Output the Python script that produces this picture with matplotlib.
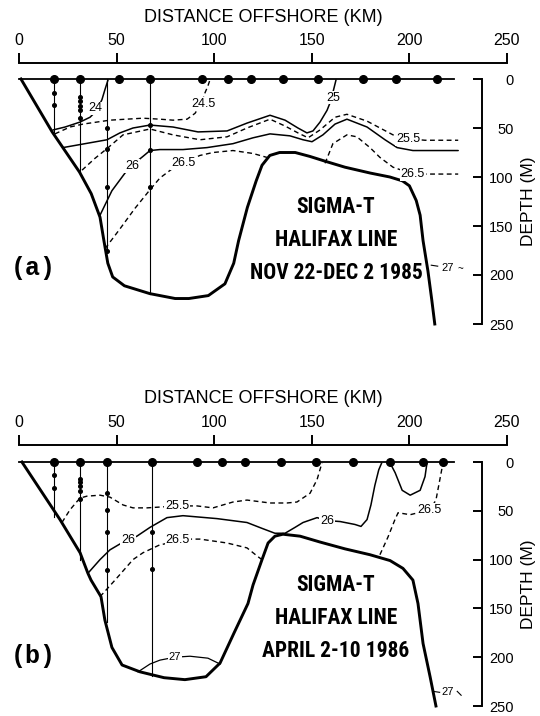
import matplotlib
matplotlib.use('Agg')
import matplotlib.pyplot as plt

W, H = 540, 716

# ---------------- panel (a) : Nov 22 - Dec 2 1985 ----------------
stations_a = [18, 31, 51, 67, 94, 107, 119, 135, 153, 176, 193, 214]
line_end_a = 223
cast_km_a = [18, 31, 45, 67]
cast_bottom_a = [54, 95, 177, 219]
cast_samples_a = [[14, 27], [18, 22, 28, 32, 40], [50, 71, 110, 175], [47, 72, 110]]

bathy_a_km = [1, 17, 31, 37, 41.5, 43.5, 45.5, 48, 54, 67, 80, 87, 97, 105.5, 110, 112.5,
              117, 121.5, 124.5, 128.5, 133.5, 141.5, 149, 157, 167, 180, 190, 196.5, 200,
              203.5, 205.5, 207, 209.5, 211.5, 213]
bathy_a_m = [0, 54, 95, 117, 141, 165, 188, 202, 211, 219, 224, 224, 221, 209, 188, 165,
             131, 104, 88, 78, 75, 75, 79, 84, 90, 96, 100, 104, 109, 124, 139, 165, 196, 226, 250]

c24_km = [17.4, 23.6, 31.2, 36.4, 39.9, 42.5, 44, 45.6]
c24_m = [52, 49, 44, 39, 32, 21, 11, 1]
c245_km = [18.4, 26.1, 32.8, 46.6, 63.5, 72.2, 78.9, 86.1, 90.2, 92.7, 94.2, 95.3, 96.8, 97.8]
c245_m = [56, 49, 46, 42, 40, 41, 42, 41, 35, 27, 21, 14, 7, 1]
c25_km = [22.5, 33.8, 45.1, 51.7, 58.4, 67.1, 78.9, 91.7, 106.6, 116.8, 128.6, 136.3, 142.9,
          147.5, 150.6, 154.2, 157.8, 159.8, 161.4, 162.4]
c25_m = [70, 66, 62, 55, 50, 47, 49, 54, 53, 45, 37, 42, 50, 55, 53, 44, 32, 22, 9, 1]
c255a_km = [32.3, 38.9, 45.1, 53.3, 67.1, 78.9, 92.7, 106.6, 116.8, 128.6, 136.3, 142.9,
            148.1, 154.2, 161.9, 168, 178.3, 191.6, 199.3, 208, 225]
c255a_m = [93, 81, 71, 57, 51, 57, 62, 59, 50, 41, 48, 55, 60, 52, 39, 36, 43, 57, 61, 62.5, 62.5]
c26a_km = [41.5, 47.6, 54.3, 57.9, 63.5, 67.1, 72.2, 84, 96.3, 109.6, 119.9, 128.6, 138.8,
           145.5, 150.1, 155.7, 161.9, 168, 178.3, 187.5, 193.7, 201.8, 225]
c26a_m = [139, 114, 96, 88, 79, 73, 72, 72, 70, 66, 60, 56, 58, 62, 64, 57, 46, 41, 49, 62, 70, 73, 73]
c265a_left_km = [44.1, 51.7, 59.4, 67.1, 72.2, 78.9, 86, 92.7, 99.4, 109.6, 119.9, 127]
c265a_left_m = [173, 153, 132, 113, 101, 91, 84, 78, 75, 73, 76, 80]
c265a_right_km = [156.8, 160.8, 168, 173.1, 179.8, 184.9, 191.6, 201.8, 209, 225]
c265a_right_m = [86, 66, 57, 59, 70, 80, 90, 97, 97, 97]

labels_a = [('24', 38.9, 30), ('24.5', 94.3, 25), ('25', 160.9, 19), ('25.5', 199.5, 61.5),
            ('26', 57.9, 89), ('26.5', 84, 86), ('26.5', 201.8, 97)]

# ---------------- panel (b) : April 2-10 1986 ----------------
stations_b = [18, 31, 45, 68, 91, 104, 116, 134, 152, 171, 190, 207, 217]
line_end_b = 223
cast_km_b = [18, 31, 45, 68]
cast_bottom_b = [56, 100, 164, 219]
cast_samples_b = [[13, 27], [17, 21, 25, 30, 38], [32, 49, 72, 111], [72, 110]]

bathy_b_km = [1.5, 21, 31.3, 35.3, 36.9, 42, 44, 47.6, 52.8, 62, 74.3, 85, 95.8, 103, 110.2,
              117.3, 119.9, 124.5, 127.6, 131.1, 135.2, 144, 154.2, 167, 179.8, 190.1, 196.7,
              201.8, 204.4, 207, 210.6, 213.6]
bathy_b_m = [0, 59, 93, 114, 121, 138, 162, 190, 208, 215, 221, 223, 220, 206, 175, 145, 126,
             100, 83, 76, 74, 76, 82, 89, 95, 101, 109, 121, 145, 186, 220, 250]

c255b_km = [22, 26.1, 31.2, 34.8, 41.5, 46.6, 53.3, 58.4, 65.6, 81.1, 91.2, 99.4, 109.6,
            116.8, 128.6, 137.3, 142.4, 149.1, 152.7, 155.2]
c255b_m = [62, 49, 37, 35, 34, 36, 44, 47, 47, 45, 45, 47, 41, 39, 42, 42, 41, 32, 18, 1]
c26b_km = [35.3, 41.5, 46.6, 51.7, 55.8, 60.4, 67.1, 75.8, 84, 101.4, 116.8, 124.5, 131.1,
           136.3, 141.4, 145.5, 152.7, 157.8, 164.5, 172.1, 175.2, 178.3, 180.3, 182.3, 184.3, 185.8]
c26b_m = [114, 100, 90, 84, 80, 76, 67, 57, 55, 58, 62, 68, 73, 73, 67, 62, 57, 60, 61, 64,
          66, 59, 44, 24, 8, 1]
c26b_loop_km = [190.1, 192.7, 196.3, 200.4, 205.5, 208, 209]
c26b_loop_m = [1, 11, 29, 34, 29, 15, 1]
c265b_left_km = [41.5, 49.2, 58.4, 63.5, 72, 86, 92.7, 106.6, 116.8, 122.4, 124.5]
c265b_left_m = [138, 121, 100, 93, 85, 79, 79, 83, 88, 97, 100]
c265b_right_km = [184.9, 189, 192.6, 194.2, 200.4, 210.5, 213.6, 215.6, 217.2]
c265b_right_m = [95, 77, 59, 52, 54, 49, 39, 18, 1]
c27b_km = [61, 67.1, 72.2, 79.9, 87.6, 96.8, 103]
c27b_m = [215, 207, 203, 200, 199, 201, 207]

labels_b = [('25.5', 81, 45), ('26', 55.8, 80), ('26', 157.8, 60.5), ('26.5', 81.4, 80),
            ('26.5', 210.5, 49)]

xticks = [0, 50, 100, 150, 200, 250]
yticks = [0, 50, 100, 150, 200, 250]

sans = ['Liberation Sans', 'DejaVu Sans']
condensed = ['Roboto Condensed', 'Liberation Sans']
plt.rcParams['font.family'] = sans

fig = plt.figure(figsize=(W / 100, H / 100), dpi=100)

solid = dict(color='black', lw=1.1, solid_capstyle='round')
dashed = dict(color='black', lw=1.0, linestyle=(0, (3.5, 2.5)))


def setup_axes(ax, top_px):
    ax.set_xlim(0, 250)
    ax.set_ylim(250, 0)
    ax.patch.set_visible(False)
    ax.spines['left'].set_visible(False)
    ax.spines['bottom'].set_visible(False)
    ax.spines['top'].set_position(('outward', top_px * 0.72))
    ax.spines['top'].set_bounds(0, 250)
    ax.spines['right'].set_position(('data', 237))
    ax.spines['right'].set_bounds(0, 250)
    for s in ['top', 'right']:
        ax.spines[s].set_linewidth(1.4)
    ax.xaxis.tick_top()
    ax.set_xticks(xticks, [str(t) for t in xticks])
    ax.tick_params(axis='x', direction='out', length=7, width=1.4, pad=4, labelsize=11.5)
    ax.yaxis.tick_right()
    ax.set_yticks(yticks, [str(t) for t in yticks])
    ax.tick_params(axis='y', direction='in', length=6.5, width=1.4, pad=23, labelsize=10.5)
    plt.setp(ax.get_yticklabels(), ha='right')


def draw_common(ax, stations, line_end, cast_km, cast_bottom, cast_samples, bkm, bm):
    ax.plot([0, line_end], [0, 0], color='black', lw=1.3, clip_on=False, zorder=4)
    ax.plot(stations, [0] * len(stations), 'o', color='black', ms=5.5, clip_on=False, zorder=5)
    for x, b, samples in zip(cast_km, cast_bottom, cast_samples):
        ax.plot([x, x], [0, b], color='black', lw=0.8, zorder=2)
        ax.plot([x] * len(samples), samples, 'o', color='black', ms=2.6, zorder=3)
    ax.plot(bkm, bm, color='black', lw=2.1, solid_joinstyle='round', zorder=4, clip_on=False)


def put_labels(ax, labels):
    for txt, x, y in labels:
        ax.text(x, y, txt, fontsize=9, ha='center', va='center', zorder=6,
                bbox=dict(fc='white', ec='none', pad=0.6))


def px(x, y):
    return x / W, 1 - y / H


# ---- panel (a)
ax_a = fig.add_axes([19 / W, 1 - 324 / H, 488 / W, 245 / H])
setup_axes(ax_a, 16)
draw_common(ax_a, stations_a, line_end_a, cast_km_a, cast_bottom_a, cast_samples_a,
            bathy_a_km, bathy_a_m)
ax_a.plot(c24_km, c24_m, **solid)
ax_a.plot(c245_km, c245_m, **dashed)
ax_a.plot(c25_km, c25_m, **solid)
ax_a.plot(c255a_km, c255a_m, **dashed)
ax_a.plot(c26a_km, c26a_m, **solid)
ax_a.plot(c265a_left_km, c265a_left_m, **dashed)
ax_a.plot(c265a_right_km, c265a_right_m, **dashed)
put_labels(ax_a, labels_a)
# 27 tag at the shelf break
ax_a.plot([211.2, 214.5], [190, 191], color='black', lw=0.8)
ax_a.text(219.5, 193, '27', fontsize=8, ha='center', va='center')
ax_a.text(226, 194, '~', fontsize=7, ha='center', va='center')
for i, t in enumerate(['SIGMA-T', 'HALIFAX LINE', 'NOV 22-DEC 2 1985']):
    ax_a.text(162.4, 131 + 33.7 * i, t, fontsize=15.5, fontweight='bold', family=condensed,
              ha='center', va='center')

# ---- panel (b)
ax_b = fig.add_axes([19 / W, 1 - 706 / H, 488 / W, 244 / H])
setup_axes(ax_b, 17)
draw_common(ax_b, stations_b, line_end_b, cast_km_b, cast_bottom_b, cast_samples_b,
            bathy_b_km, bathy_b_m)
ax_b.plot(c255b_km, c255b_m, **dashed)
ax_b.plot(c26b_km, c26b_m, **solid)
ax_b.plot(c26b_loop_km, c26b_loop_m, **solid)
ax_b.plot(c265b_left_km, c265b_left_m, **dashed)
ax_b.plot(c265b_right_km, c265b_right_m, **dashed)
ax_b.plot(c27b_km, c27b_m, color='black', lw=0.9)
put_labels(ax_b, labels_b)
ax_b.text(79.9, 199.5, '27', fontsize=8, ha='center', va='center',
          bbox=dict(fc='white', ec='none', pad=0.4))
ax_b.plot([212.2, 215.5], [235, 236], color='black', lw=0.8)
ax_b.text(219.5, 236, '27', fontsize=8, ha='center', va='center')
ax_b.plot([224.5, 226.5], [235, 239], color='black', lw=0.8)
for i, t in enumerate(['SIGMA-T', 'HALIFAX LINE', 'APRIL 2-10 1986']):
    ax_b.text(162.4, 126 + 34 * i, t, fontsize=15.5, fontweight='bold', family=condensed,
              ha='center', va='center')

# axis titles and panel letters
for ytitle, ydepth, ylet, let in [(18, 201, 268, '(a)'), (398, 584, 656, '(b)')]:
    fig.text(*px(263, ytitle), 'DISTANCE OFFSHORE (KM)', fontsize=13, ha='center', va='center')
    fig.text(*px(528, ydepth), 'DEPTH (M)', fontsize=12.5, rotation=90, ha='center', va='center')
    fig.text(*px(33, ylet), let, fontsize=18, fontweight='bold',
             family=['Liberation Mono', 'DejaVu Sans Mono'], ha='center', va='center')

fig.savefig('out.png', dpi=100)
